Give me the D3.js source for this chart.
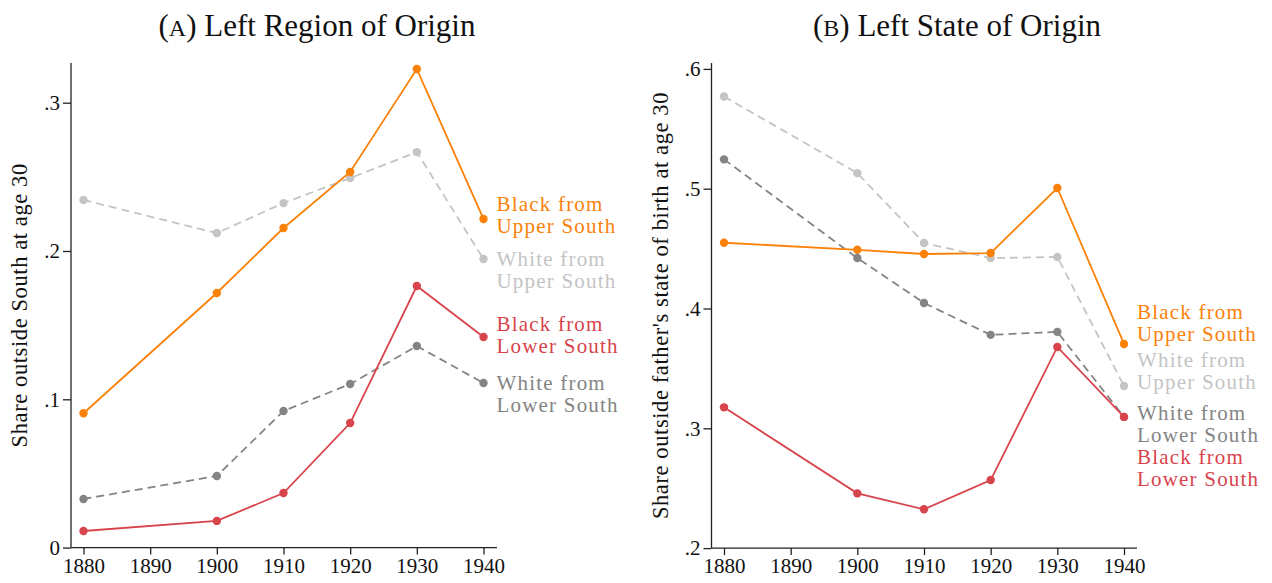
<!DOCTYPE html>
<html>
<head>
<meta charset="utf-8">
<script src="https://cdn.jsdelivr.net/npm/d3@7"></script>
<style>
  html, body { margin: 0; padding: 0; background: #fff; }
  svg { display: block; font-family: "Liberation Serif", "Times New Roman", serif; }
</style>
</head>
<body>
<svg id="chart" width="1272" height="583"></svg>
<script>
// Census years
const years = [1880, 1900, 1910, 1920, 1930, 1940];
const xTicks = [1880, 1890, 1900, 1910, 1920, 1930, 1940];

// Panel A: share living outside the South at age 30
const regionBlackUpper = [0.0906, 0.1717, 0.2155, 0.2533, 0.3227, 0.2216];
const regionWhiteUpper = [0.2344, 0.2121, 0.2323, 0.2492, 0.2667, 0.1946];
const regionBlackLower = [0.0112, 0.0180, 0.0368, 0.0840, 0.1764, 0.1420];
const regionWhiteLower = [0.0328, 0.0483, 0.0921, 0.1103, 0.1359, 0.1110];
const regionYTicks = [0, 0.1, 0.2, 0.3];

// Panel B: share living outside father's state of birth at age 30
const stateBlackUpper = [0.4549, 0.4490, 0.4455, 0.4463, 0.5006, 0.3704];
const stateWhiteUpper = [0.5770, 0.5130, 0.4547, 0.4421, 0.4430, 0.3353];
const stateBlackLower = [0.3175, 0.2457, 0.2324, 0.2568, 0.3679, 0.3095];
const stateWhiteLower = [0.5245, 0.4421, 0.4046, 0.3780, 0.3805, 0.3095];
const stateYTicks = [0.2, 0.3, 0.4, 0.5, 0.6];

const colors = {
  blackUpper: "#fb8109",
  whiteUpper: "#c4c4c4",
  blackLower: "#d8444c",
  whiteLower: "#848484"
};

const SERIF = '"Liberation Serif", "Times New Roman", serif';
const fmt = v => v === 0 ? "0" : d3.format(".1f")(v).replace(/^0/, "");

const svg = d3.select("#chart");

function panel(opt) {
  const g = svg.append("g").attr("font-family", SERIF);
  const x = d3.scaleLinear().domain([1880, 1940]).range([opt.x0, opt.x1]);
  const y = d3.scaleLinear().domain(opt.yDomain).range([opt.yBottom, opt.yTop]);

  // title with small-cap letter
  const t = g.append("text")
    .attr("x", opt.titleX).attr("y", 36)
    .attr("text-anchor", "middle")
    .attr("font-size", 31).attr("fill", "#111");
  t.append("tspan").text("(");
  t.append("tspan").attr("font-size", 24).text(opt.letter);
  t.append("tspan").text(") " + opt.title);

  // axes
  const yAxis = d3.axisLeft(y).tickValues(opt.yTicks).tickFormat(fmt).tickSize(8).tickPadding(3);
  const gy = g.append("g").attr("transform", `translate(${opt.axisX},0)`).call(yAxis);
  gy.select(".domain").attr("d", `M0,${opt.yBottom}V${opt.axisTop}`);

  const xAxis = d3.axisBottom(x).tickValues(xTicks).tickFormat(d3.format("d")).tickSize(7).tickPadding(3);
  const gx = g.append("g").attr("transform", `translate(0,${opt.yBottom})`).call(xAxis);
  gx.select(".domain").attr("d", `M${opt.axisX},0H${opt.axisRight}`);

  [gx, gy].forEach(a => {
    a.attr("font-family", SERIF).attr("font-size", 21);
    a.selectAll("path, line").attr("stroke", "#222").attr("stroke-width", 1.3);
    a.selectAll("text").attr("fill", "#111").style("font-family", SERIF).style("font-size", "21px");
  });

  // y-axis title
  g.append("text")
    .attr("transform", `translate(${opt.yLabelX},${(opt.yBottom + opt.axisTop) / 2}) rotate(-90)`)
    .attr("text-anchor", "middle")
    .attr("font-size", 22.5).attr("letter-spacing", 0.6).attr("fill", "#111")
    .text(opt.yLabel);

  const line = d3.line().x((d, i) => x(years[i])).y(d => y(d));

  opt.series.forEach(s => {
    g.append("path")
      .datum(s.values)
      .attr("d", line)
      .attr("fill", "none")
      .attr("stroke", s.color)
      .attr("stroke-width", 1.8)
      .attr("stroke-dasharray", s.dashed ? "8,5" : null);
    g.selectAll(null).data(s.values).enter().append("circle")
      .attr("cx", (d, i) => x(years[i]))
      .attr("cy", d => y(d))
      .attr("r", 4.2)
      .attr("fill", s.color);
    // two-line series label beside the last point
    const last = s.values[s.values.length - 1];
    s.label.forEach((ln, k) => {
      g.append("text")
        .attr("x", x(1940) + 13)
        .attr("y", y(last) + s.labelDy + k * 22)
        .attr("font-size", 21)
        .attr("letter-spacing", 1.2)
        .attr("fill", s.color)
        .text(ln);
    });
  });
}

panel({
  letter: "A", title: "Left Region of Origin", titleX: 317,
  x0: 83.5, x1: 483.5, axisX: 71, axisRight: 497, axisTop: 63,
  yDomain: [0, 0.3], yBottom: 547.6, yTop: 102.7, yTicks: regionYTicks,
  yLabelX: 27, yLabel: "Share outside South at age 30",
  series: [
    { values: regionWhiteUpper, color: colors.whiteUpper, dashed: true, label: ["White from", "Upper South"], labelDy: 7 },
    { values: regionWhiteLower, color: colors.whiteLower, dashed: true, label: ["White from", "Lower South"], labelDy: 7 },
    { values: regionBlackLower, color: colors.blackLower, dashed: false, label: ["Black from", "Lower South"], labelDy: -6 },
    { values: regionBlackUpper, color: colors.blackUpper, dashed: false, label: ["Black from", "Upper South"], labelDy: -8 }
  ]
});

panel({
  letter: "B", title: "Left State of Origin", titleX: 957,
  x0: 724, x1: 1124, axisX: 711.5, axisRight: 1137, axisTop: 63,
  yDomain: [0.2, 0.6], yBottom: 548.1, yTop: 68.9, yTicks: stateYTicks,
  yLabelX: 668, yLabel: "Share outside father's state of birth at age 30",
  series: [
    { values: stateWhiteUpper, color: colors.whiteUpper, dashed: true, label: ["White from", "Upper South"], labelDy: -19 },
    { values: stateWhiteLower, color: colors.whiteLower, dashed: true, label: ["White from", "Lower South"], labelDy: 3 },
    { values: stateBlackLower, color: colors.blackLower, dashed: false, label: ["Black from", "Lower South"], labelDy: 47 },
    { values: stateBlackUpper, color: colors.blackUpper, dashed: false, label: ["Black from", "Upper South"], labelDy: -25 }
  ]
});
</script>
</body>
</html>
